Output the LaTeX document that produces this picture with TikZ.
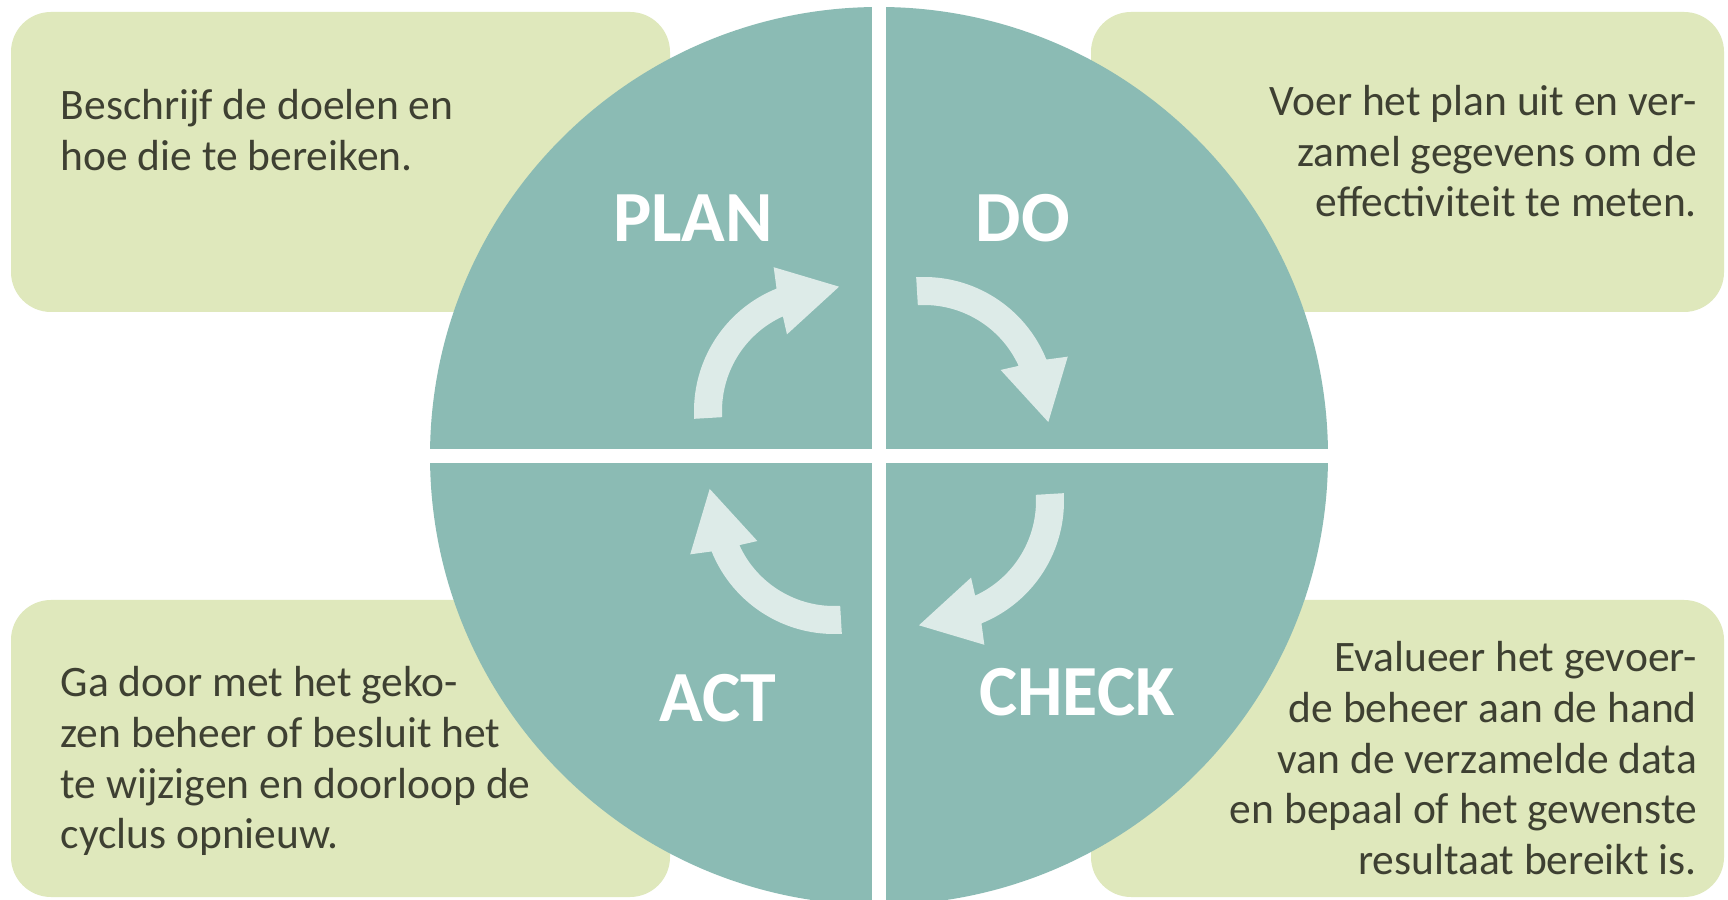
\documentclass[tikz,border=0pt]{standalone}
\usepackage{fontspec}
\setmainfont{Carlito}
\definecolor{boxgreen}{RGB}{223,232,188}
\definecolor{cycleteal}{RGB}{139,187,180}
\definecolor{arrowpale}{RGB}{221,235,232}
\definecolor{bodytext}{RGB}{62,64,50}
\tikzset{
    infobox/.style={fill=boxgreen, rounded corners=40pt},
    phase/.style={text=white, font=\fontsize{72}{72}\selectfont\bfseries, inner sep=0pt, anchor=base},
    info/.style={text=bodytext, font=\fontsize{43.5}{50.8}\selectfont, inner sep=0pt},
}
\begin{document}
\begin{tikzpicture}[x=1pt, y=1pt]
    \useasboundingbox (0,0) rectangle (1728,899);
    \clip (0,0) rectangle (1728,899);
    \fill[white] (0,0) rectangle (1728,899);
    % text boxes
    \fill[infobox] (11,587) rectangle (670,887);
    \fill[infobox] (1091,587) rectangle (1724,887);
    \fill[infobox] (11,2) rectangle (670,299);
    \fill[infobox] (1091,2) rectangle (1724,299);
    % the cycle
    \begin{scope}[shift={(879,443)}]
        \fill[cycleteal] (0,0) -- (0:449) arc (0:90:449) -- cycle;
        \fill[cycleteal] (0,0) -- (90:449) arc (90:180:449) -- cycle;
        \fill[cycleteal] (0,0) -- (180:449) arc (180:270:449) -- cycle;
        \fill[cycleteal] (0,0) -- (270:449) arc (270:360:449) -- cycle;
        \draw[white, line width=13.5pt] (0,0) -- (0:450);
        \draw[white, line width=13.5pt] (0,0) -- (90:450);
        \draw[white, line width=13.5pt] (0,0) -- (180:450);
        \draw[white, line width=13.5pt] (0,0) -- (270:450);
        \foreach \r/\dy in {0/0,-90/-6,-180/0,-270/7}
            \fill[arrowpale, shift={(0,\dy)}, rotate=\r, shift={(-53,45)}] (183.4:132) arc (183.4:112:132)
                -- (110:153) -- (84:125) -- (117:86) -- (114.5:104) arc (114.5:183.4:104) -- cycle;
    \end{scope}
    % phase names
    \node[phase] (plan) at (693,657) {PLAN};
    \node[phase] (do) at (1023,657) {DO};
    \node[phase] (check) at (1077,183) {CHECK};
    \node[phase] (act) at (718,177) {ACT};
    % descriptions
    \node[info, anchor=north west, align=left] (planinfo) at (60.5,810)
        {Beschrijf de doelen en\\hoe die te bereiken.};
    \node[info, anchor=north east, align=right] (doinfo) at (1697,814)
        {Voer het plan uit en ver-\\zamel gegevens om de\\effectiviteit te meten.};
    \node[info, anchor=north east, align=right] (checkinfo) at (1697,258)
        {Evalueer het gevoer-\\de beheer aan de hand\\van de verzamelde data\\en bepaal of het gewenste\\resultaat bereikt is.};
    \node[info, anchor=north west, align=left] (actinfo) at (60.5,233)
        {Ga door met het geko-\\zen beheer of besluit het\\te wijzigen en doorloop de\\cyclus opnieuw.};
\end{tikzpicture}
\end{document}
